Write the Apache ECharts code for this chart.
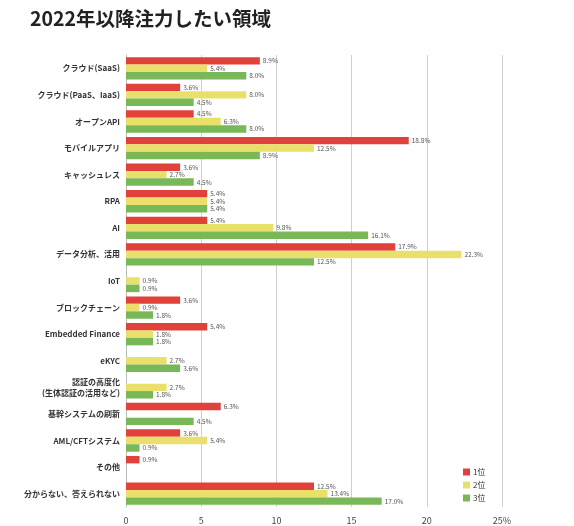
<!DOCTYPE html>
<html><head><meta charset="utf-8">
<script src="https://cdn.jsdelivr.net/npm/echarts@6/dist/echarts.min.js"></script>
<style>html,body{margin:0;padding:0;background:#fff}#c{width:574px;height:526px}</style>
</head><body><div id="c"></div>
<script>
const title = '2022年以降注力したい領域';
const categories = ['クラウド(SaaS)','クラウド(PaaS、IaaS)','オープンAPI','モバイルアプリ','キャッシュレス','RPA','AI','データ分析、活用','IoT','ブロックチェーン','Embedded Finance','eKYC','認証の高度化\n(生体認証の活用など)','基幹システムの刷新','AML/CFTシステム','その他','分からない、答えられない'];
const seriesNames = ['1位','2位','3位'];
const rank1 = [8.9,3.6,4.5,18.8,3.6,5.4,5.4,17.9,null,3.6,5.4,null,null,6.3,3.6,0.9,12.5];
const rank2 = [5.4,8.0,6.3,12.5,2.7,5.4,9.8,22.3,0.9,0.9,1.8,2.7,2.7,null,5.4,null,13.4];
const rank3 = [8.0,4.5,8.0,8.9,4.5,5.4,16.1,12.5,0.9,1.8,1.8,3.6,1.8,4.5,0.9,null,17.0];
const xTicks = [0,5,10,15,20,25];
const colors = ['#e0413a','#e8e06a','#78b858'];
const FONT = '"Noto Sans CJK JP","Noto Sans",sans-serif';
const data = [rank1, rank2, rank3];
const chart = echarts.init(document.getElementById('c'), null, {renderer:'canvas'});
chart.setOption({
  animation:false,
  title:{text:title,left:25,top:4,textStyle:{fontFamily:FONT,fontSize:19.5,fontWeight:'bold',color:'#222'}},
  legend:{orient:'vertical',left:458,top:463,itemWidth:7,itemHeight:7,itemGap:5,icon:'rect',
    textStyle:{fontFamily:FONT,fontSize:8,color:'#333',padding:[0,0,0,-2]},data:seriesNames},
  grid:{left:126,right:72,top:55,bottom:19,containLabel:false},
  xAxis:{type:'value',min:0,max:25,interval:5,
    axisLine:{show:false},axisTick:{show:false},
    splitLine:{lineStyle:{color:'#cfcfcf',width:1}},
    axisLabel:{margin:9,fontFamily:FONT,fontSize:9,color:'#444',formatter:v=>v===xTicks[xTicks.length-1]?v+'%':String(v)}},
  yAxis:{type:'category',inverse:true,data:categories,
    axisLine:{show:true,lineStyle:{color:'#bbb'}},axisTick:{show:false},
    axisLabel:{margin:6,fontFamily:FONT,fontSize:8,fontWeight:'bold',color:'#333',lineHeight:11}},
  series:seriesNames.map((n,i)=>({name:n,type:'bar',data:data[i],barGap:'0%',barCategoryGap:'16%',
    itemStyle:{color:colors[i]},
    label:{show:true,position:'right',distance:3,fontFamily:FONT,fontSize:6.5,color:'#555',
      formatter:p=>p.value==null?'':p.value.toFixed(1)+'%'}}))
});
</script></body></html>
